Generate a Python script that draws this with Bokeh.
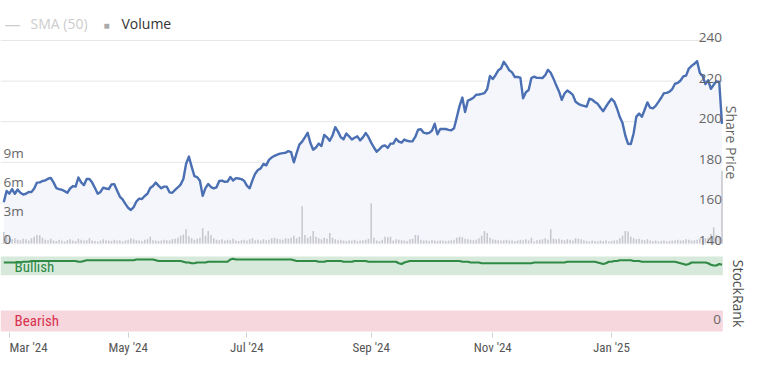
import math
import numpy as np
import pandas as pd
from bokeh.plotting import figure
from bokeh.models import Range1d, FixedTicker, Label, BoxAnnotation
from bokeh.core.properties import value
from bokeh.embed import file_html
from bokeh.resources import INLINE

# ---------------- data ----------------
start_date = "2024-02-28"   # first trading day shown (weekday calendar)

price = [
    160.4, 165.9, 164.6, 166.8, 164.5, 166.6, 165.0, 164.1, 164.5, 165.4,
    165.3, 167.1, 170.0, 170.1, 170.8, 171.1, 171.9, 172.3, 170.1, 167.3,
    166.8, 166.5, 165.8, 165.0, 167.1, 168.3, 168.0, 172.5, 170.1, 168.7,
    171.8, 171.8, 170.0, 167.3, 164.5, 165.4, 167.5, 167.1, 166.8, 169.1,
    169.2, 166.1, 163.1, 161.7, 159.5, 157.6, 156.5, 157.9, 160.7, 162.1,
    161.9, 163.4, 164.5, 167.3, 168.3, 170.0, 168.5, 167.2, 168.0, 168.0,
    165.2, 165.0, 166.4, 167.6, 169.0, 171.8, 179.3, 182.8, 177.9, 173.2,
    172.7, 170.9, 163.5, 167.3, 169.3, 167.8, 167.2, 167.7, 170.8, 171.0,
    170.4, 170.5, 172.7, 171.0, 172.2, 172.0, 171.7, 170.9, 168.5, 167.2,
    171.1, 174.4, 176.2, 177.0, 179.2, 178.5, 181.2, 182.4, 183.2, 183.8,
    184.3, 184.5, 184.7, 185.5, 185.0, 180.0, 184.5, 188.7, 190.2, 192.3,
    194.5, 189.5, 186.2, 187.3, 189.2, 188.0, 193.5, 192.3, 190.6, 193.2,
    197.3, 195.1, 192.3, 191.3, 194.2, 192.8, 191.2, 192.1, 192.8, 190.8,
    192.3, 194.4, 192.5, 189.7, 187.3, 185.2, 186.5, 187.9, 188.3, 187.1,
    189.2, 189.2, 191.6, 190.2, 189.7, 191.2, 190.6, 190.3, 190.4, 192.6,
    196.1, 196.3, 194.6, 194.2, 194.5, 195.6, 199.0, 193.8, 196.4, 196.4,
    196.4, 196.0, 195.8, 196.8, 202.2, 207.8, 211.9, 204.8, 210.4, 211.0,
    211.8, 213.3, 213.4, 213.7, 214.1, 216.1, 222.5, 221.0, 222.9, 225.3,
    226.2, 229.5, 227.6, 225.3, 224.3, 222.0, 222.0, 221.7, 211.5, 214.5,
    215.6, 221.5, 222.2, 221.6, 221.6, 221.5, 222.9, 225.5, 224.1, 221.2,
    217.9, 214.9, 210.8, 213.9, 215.4, 214.4, 213.2, 209.8, 208.8, 208.2,
    207.8, 207.4, 211.3, 210.9, 209.7, 208.8, 206.9, 205.2, 207.4, 209.5,
    211.3, 209.9, 206.5, 202.3, 199.3, 193.2, 189.1, 189.0, 194.2, 202.5,
    204.0, 202.4, 205.9, 209.5, 206.9, 206.6, 207.8, 209.8, 211.8, 214.1,
    214.2, 214.8, 216.1, 218.7, 219.1, 220.3, 222.3, 222.7, 226.2, 227.5,
    228.5, 229.8, 224.0, 222.5, 218.5, 220.4, 216.2, 218.2, 219.9, 219.6,
    198.9,
]

volume_m = [
    1.20, 0.85, 0.60, 0.45, 0.55, 0.40, 0.35, 0.50, 0.45, 0.30,
    0.55, 0.70, 0.90, 0.85, 0.60, 0.40, 0.35, 0.50, 0.30, 0.25,
    0.40, 0.30, 0.20, 0.35, 0.45, 0.30, 0.25, 0.50, 0.40, 0.30,
    0.35, 0.55, 0.30, 0.25, 0.20, 0.30, 0.45, 0.35, 0.30, 0.25,
    0.40, 0.30, 0.35, 0.20, 0.30, 0.40, 0.55, 0.45, 0.35, 0.30,
    0.25, 0.40, 0.45, 0.70, 0.35, 0.30, 0.25, 0.30, 0.40, 0.35,
    0.30, 0.45, 0.50, 0.60, 0.80, 0.95, 1.50, 0.75, 0.55, 0.40,
    0.50, 0.60, 1.60, 0.80, 1.30, 0.90, 0.55, 0.40, 0.35, 0.45,
    0.30, 0.40, 0.35, 0.50, 0.30, 0.25, 0.35, 0.40, 0.30, 0.45,
    0.55, 0.35, 0.40, 0.30, 0.45, 0.35, 0.40, 0.55, 0.60, 0.50,
    0.45, 0.40, 0.55, 0.50, 0.60, 0.80, 0.55, 0.70, 3.90, 0.90,
    0.60, 0.75, 1.30, 0.70, 0.55, 0.45, 0.60, 0.50, 1.10, 0.60,
    0.45, 0.35, 0.40, 0.30, 0.25, 0.35, 0.30, 0.40, 0.25, 0.30,
    0.35, 0.40, 0.50, 4.20, 0.60, 0.30, 0.25, 0.40, 0.70, 0.65,
    0.70, 0.30, 0.45, 0.40, 0.35, 0.30, 0.25, 0.45, 0.50, 0.90,
    0.85, 0.40, 0.30, 0.35, 0.25, 0.40, 0.30, 0.25, 0.35, 0.30,
    0.25, 0.30, 0.35, 0.40, 0.60, 0.70, 0.65, 0.50, 0.45, 0.40,
    0.35, 0.40, 0.55, 0.80, 1.30, 1.10, 0.60, 0.45, 0.40, 0.35,
    0.30, 0.35, 0.40, 0.30, 0.35, 0.25, 0.30, 0.40, 0.35, 0.45,
    0.30, 0.60, 0.20, 0.35, 0.40, 0.45, 0.55, 0.40, 1.50, 0.50,
    0.45, 0.50, 0.40, 0.35, 0.45, 0.40, 0.30, 0.55, 0.50, 0.45,
    0.35, 0.25, 0.20, 0.30, 0.25, 0.20, 0.30, 0.25, 0.35, 0.20,
    0.25, 0.30, 0.35, 0.55, 0.80, 1.30, 1.25, 0.70, 0.55, 0.45,
    0.50, 0.40, 0.35, 0.45, 0.30, 0.25, 0.30, 0.20, 0.25, 0.30,
    0.20, 0.25, 0.30, 0.35, 0.40, 0.30, 0.35, 0.45, 0.40, 0.30,
    0.35, 0.40, 0.50, 0.45, 0.55, 0.60, 1.00, 1.70, 0.90, 0.70,
    7.60,
]

stock_rank = [
    92, 92, 92, 92, 92, 92, 92, 93, 93, 93,
    94, 94, 94, 94, 94, 94, 94, 94, 94, 94,
    94, 94, 94, 94, 94, 94, 94, 93, 93, 94,
    95, 95, 95, 95, 95, 95, 95, 95, 95, 95,
    95, 95, 95, 95, 95, 95, 95, 95, 96, 96,
    96, 96, 96, 96, 96, 95, 94, 94, 94, 94,
    94, 94, 94, 94, 94, 93, 92, 92, 91, 91,
    92, 92, 92, 92, 93, 93, 93, 93, 93, 93,
    93, 93, 96, 97, 96, 96, 96, 96, 96, 96,
    96, 96, 96, 96, 96, 96, 96, 96, 96, 96,
    96, 96, 96, 96, 96, 95, 94, 94, 94, 94,
    94, 94, 94, 94, 93, 93, 93, 94, 94, 94,
    94, 94, 94, 93, 93, 93, 93, 94, 94, 94,
    94, 94, 93, 93, 93, 93, 93, 93, 93, 93,
    93, 93, 93, 91, 90, 92, 93, 94, 94, 94,
    94, 94, 94, 94, 94, 94, 94, 94, 94, 94,
    94, 94, 94, 94, 94, 94, 93, 93, 93, 92,
    92, 92, 92, 91, 91, 91, 91, 91, 91, 91,
    91, 91, 91, 91, 91, 91, 91, 91, 91, 91,
    91, 91, 92, 92, 92, 92, 92, 92, 92, 92,
    92, 92, 92, 92, 93, 93, 93, 93, 93, 93,
    93, 93, 93, 93, 93, 92, 91, 90, 91, 93,
    93, 94, 94, 95, 95, 95, 95, 95, 94, 94,
    94, 93, 93, 93, 93, 93, 93, 93, 93, 93,
    93, 93, 93, 93, 92, 91, 90, 89, 90, 92,
    92, 92, 92, 92, 92, 91, 89, 88, 88, 90,
    89,
]

price_ticks = [140, 160, 180, 200, 220, 240]
volume_ticks = [0, 3, 6, 9]
volume_tick_labels = ["0", "3m", "6m", "9m"]
rank_ticks = [0]
month_ticks = ["2024-03", "2024-05", "2024-07", "2024-09", "2024-11", "2025-01"]
month_labels = ["Mar '24", "May '24", "Jul '24", "Sep '24", "Nov '24", "Jan '25"]
bullish_band = (75, 100)
bearish_band = (0, 28)

# ---------------- derived ----------------
dates = pd.bdate_range(start_date, periods=len(price))
idx = list(range(len(price)))
ym = np.array(dates.strftime("%Y-%m"))
tick_idx = [int(np.argmax(ym == m)) for m in month_ticks]
x_first, x_last = -1.2, idx[-1] + 0.3

FONT = "Open Sans"
NARROW = "Liberation Sans Narrow, Roboto Condensed, Roboto, sans-serif"

FRAME_H = 332
x_rng = Range1d(-1.2, 269.6)
p = figure(
    frame_width=748, frame_height=FRAME_H,
    min_border_left=0, min_border_right=0, min_border_top=0, min_border_bottom=23,
    x_range=x_rng, y_range=Range1d(96.16, 259.7),
    y_axis_location=None,
    output_backend="svg", toolbar_location=None,
    background_fill_color="white", border_fill_color="white",
)
p.outline_line_color = None
p.extra_y_ranges = {"vol": Range1d(-9.30, 25.39), "rank": Range1d(-1.33, 441.3)}

# grid lines (price panel only, up to the last point)
p.xgrid.visible = False
p.ygrid.visible = False
p.segment(x0=[x_first] * len(price_ticks), x1=[x_last] * len(price_ticks),
          y0=price_ticks, y1=price_ticks, line_color="#e6e6e6", line_width=1)

# x axis
ax = p.xaxis[0]
ax.ticker = FixedTicker(ticks=tick_idx)
overrides = {t: lab for t, lab in zip(tick_idx, month_labels)}
overrides[tick_idx[0]] = "\u00a0\u00a0\u00a0" + month_labels[0]
ax.major_label_overrides = overrides
ax.major_label_text_font = NARROW
ax.major_label_text_font_size = "13px"
ax.major_label_text_color = "#555555"
ax.major_label_standoff = 2
ax.major_tick_in = 0
ax.major_tick_out = 5
ax.minor_tick_out = 0
ax.minor_tick_in = 0
ax.major_tick_line_color = "#d0d0d0"
ax.axis_line_color = None

# StockRank bands
p.add_layout(BoxAnnotation(left=x_first, right=x_last, bottom=bullish_band[0], top=bullish_band[1],
                           y_range_name="rank", fill_color="#d6e9da", fill_alpha=1.0,
                           line_color=None, level="underlay"))
p.add_layout(BoxAnnotation(left=x_first, right=x_last, bottom=bearish_band[0], top=bearish_band[1],
                           y_range_name="rank", fill_color="#f5d7dd", fill_alpha=1.0,
                           line_color=None, level="underlay"))

# price area + volume + line
p.varea(x=idx, y1=price, y2=139.5, fill_color="#f5f6fb")
p.vbar(x=idx, top=volume_m, bottom=0, width=0.55, y_range_name="vol",
       fill_color="#c6c7cd", line_color=None)
p.line(idx, price, line_color="#4a6fb3", line_width=2.4, line_join="round")

# rank line
p.line(idx, stock_rank, y_range_name="rank", line_color="#2e8a45", line_width=2.2)

# price tick labels (drawn inside, right edge)
p.text(x=[idx[-1]] * len(price_ticks), y=price_ticks, text=[str(t) for t in price_ticks],
       text_align="right", text_baseline="alphabetic", x_offset=0, y_offset=-3,
       text_font=value(FONT), text_font_size="13.5px", text_color="#666666")

# volume tick labels (left)
p.text(x=[x_first] * len(volume_ticks), y=volume_ticks, text=volume_tick_labels,
       y_range_name="vol", text_align="left", text_baseline="alphabetic",
       x_offset=3, y_offset=-4,
       text_font=value(FONT), text_font_size="13.5px", text_color="#666666")

# rank tick label
p.text(x=[idx[-1]], y=rank_ticks, text=[str(t) for t in rank_ticks], y_range_name="rank",
       text_align="right", text_baseline="middle", x_offset=-1, y_offset=-12,
       text_font=value(FONT), text_font_size="13.5px", text_color="#666666")

# band labels
p.text(x=[x_first], y=[bullish_band[0]], text=["Bullish"], y_range_name="rank",
       text_align="left", text_baseline="bottom", x_offset=14, y_offset=1,
       text_font=value(NARROW), text_font_size="15px", text_color="#2e8a45")
p.text(x=[x_first], y=[(bearish_band[0] + bearish_band[1]) / 2], text=["Bearish"],
       y_range_name="rank", text_align="left", text_baseline="middle", x_offset=14,
       text_font=value(NARROW), text_font_size="15px", text_color="#d9324f")

# legend (screen units, x from frame left, y from frame bottom)
leg_y = FRAME_H - 23
p.add_layout(Label(x=4, y=leg_y, x_units="screen", y_units="screen", text="\u2014",
                   text_baseline="middle", text_font=FONT, text_font_size="16px",
                   text_color="#cccccc"))
p.add_layout(Label(x=30, y=leg_y, x_units="screen", y_units="screen", text="SMA (50)",
                   text_baseline="middle", text_font=FONT, text_font_size="14px",
                   text_color="#cccccc"))
p.add_layout(Label(x=103, y=leg_y - 1, x_units="screen", y_units="screen", text="\u25a0",
                   text_baseline="middle", text_font=FONT, text_font_size="10px",
                   text_color="#aaaaaa"))
p.add_layout(Label(x=121, y=leg_y, x_units="screen", y_units="screen", text="Volume",
                   text_baseline="middle", text_font=FONT, text_font_size="14px",
                   text_color="#333333"))

# axis titles (rotated clockwise)
p.add_layout(Label(x=731, y=FRAME_H - 142, x_units="screen", y_units="screen", text="Share Price",
                   angle=-math.pi / 2, text_align="center", text_baseline="middle",
                   text_font=FONT, text_font_size="14px", text_color="#666666"))
p.add_layout(Label(x=738, y=FRAME_H - 293, x_units="screen", y_units="screen", text="StockRank",
                   angle=-math.pi / 2, text_align="center", text_baseline="middle",
                   text_font=FONT, text_font_size="14px", text_color="#4d4d4d"))

open("out.html", "w").write(file_html(p, INLINE))
